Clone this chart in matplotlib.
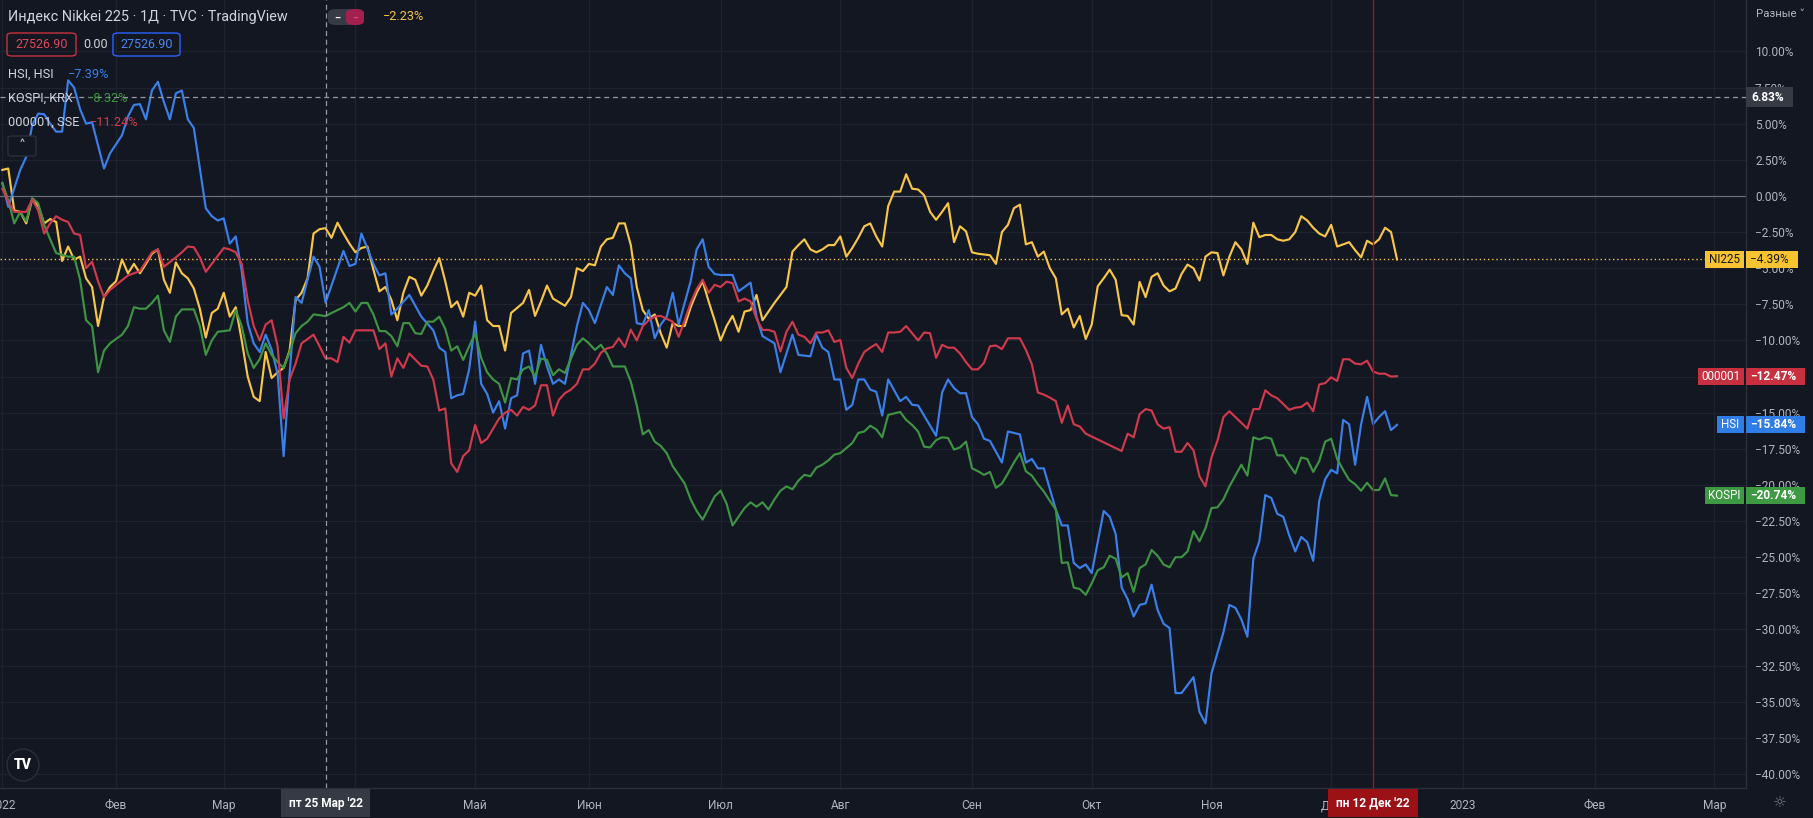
import matplotlib
matplotlib.use('Agg')
import matplotlib.pyplot as plt
import matplotlib.transforms as mtransforms
from matplotlib.patches import Rectangle, FancyBboxPatch, Ellipse

plt.rcParams['font.family'] = ['Roboto', 'DejaVu Sans']

# ---- data: (trading-day index from 4 Jan 2022, % change) ----
ni225 = [(0,1.8),(1,1.9),(2,-1.0),(3,-1.1),(4,-1.9),(5,-0.2),(6,-0.7),(7,-1.9),(8,-1.6),(9,-1.8),(10,-4.5),(11,-3.5),(12,-4.4),(13,-4.2),(14,-5.7),(15,-6.3),(16,-9.0),(17,-7.0),(18,-6.3),(19,-5.9),(20,-4.4),(21,-5.35),(22,-4.7),(23,-5.35),(24,-4.7),(25,-4.0),(26,-3.7),(27,-5.8),(28,-6.7),(29,-4.6),(30,-5.35),(31,-5.7),(32,-6.4),(33,-7.8),(34,-9.8),(35,-8.1),(36,-7.8),(37,-6.7),(38,-8.35),(39,-7.7),(40,-10.0),(41,-12.5),(42,-13.9),(43,-14.2),(44,-10.8),(45,-12.6),(46,-12.2),(47,-11.9),(48,-10.7),(49,-7.2),(50,-6.7),(51,-5.7),(52,-2.6),(53,-2.3),(54,-2.23),(55,-2.9),(56,-1.85),(57,-2.6),(58,-3.3),(59,-3.9),(60,-3.6),(61,-3.5),(62,-5.1),(63,-6.6),(64,-6.3),(65,-7.2),(66,-8.6),(67,-6.7),(68,-5.6),(69,-5.8),(70,-6.9),(71,-6.2),(72,-5.2),(73,-4.3),(74,-5.9),(75,-7.7),(76,-7.3),(77,-8.35),(78,-6.7),(79,-6.9),(80,-6.2),(81,-8.6),(82,-9.0),(83,-9.0),(84,-10.7),(85,-8.1),(87,-7.4),(88,-6.5),(89,-8.3),(90,-7.3),(91,-6.2),(92,-7.1),(94,-7.6),(95,-7.0),(96,-5.0),(97,-5.2),(98,-4.7),(99,-4.8),(100,-3.5),(101,-3.0),(102,-2.9),(103,-1.9),(104,-1.9),(105,-3.4),(106,-6.3),(107,-7.9),(108,-8.5),(109,-8.2),(110,-9.5),(111,-10.5),(112,-8.8),(113,-9.0),(114,-9.0),(115,-7.7),(116,-6.7),(117,-5.9),(118,-7.3),(119,-8.6),(120,-10.0),(121,-9.0),(122,-8.3),(123,-9.4),(124,-8.0),(125,-7.9),(126,-6.85),(127,-8.6),(128,-8.0),(129,-7.4),(130,-6.85),(131,-6.3),(132,-3.85),(133,-3.4),(134,-3.0),(135,-3.7),(136,-3.9),(137,-3.7),(138,-3.4),(139,-3.4),(140,-2.8),(141,-4.2),(142,-3.6),(143,-2.9),(144,-2.1),(145,-1.9),(146,-2.8),(147,-3.5),(148,-0.7),(149,0.3),(150,0.3),(151,1.5),(152,0.5),(153,0.45),(154,0.05),(155,-1.1),(156,-1.65),(157,-1.1),(158,-0.5),(159,-3.2),(160,-2.1),(161,-2.45),(162,-3.9),(163,-4.0),(164,-4.05),(165,-4.1),(166,-4.7),(167,-2.5),(168,-2.0),(169,-0.85),(170,-0.6),(171,-3.35),(172,-3.2),(173,-4.2),(174,-3.85),(175,-5.0),(176,-5.7),(177,-8.2),(178,-7.8),(179,-9.1),(180,-8.3),(181,-9.9),(182,-8.9),(183,-6.25),(184,-5.7),(185,-5.1),(186,-5.8),(187,-8.25),(188,-8.3),(189,-8.9),(190,-5.95),(191,-7.0),(192,-5.6),(193,-5.35),(194,-6.2),(195,-6.6),(196,-6.4),(197,-5.4),(198,-4.75),(199,-5.0),(200,-5.85),(201,-4.2),(202,-3.9),(203,-3.95),(204,-5.5),(205,-4.2),(206,-3.2),(207,-3.7),(208,-4.7),(209,-1.85),(210,-2.85),(211,-2.7),(212,-2.7),(213,-3.0),(214,-3.1),(215,-3.0),(216,-2.5),(217,-1.4),(218,-1.7),(219,-2.2),(220,-2.6),(221,-2.8),(222,-2.0),(223,-3.5),(224,-3.35),(225,-3.2),(226,-3.75),(227,-4.25),(228,-3.1),(229,-3.35),(230,-3.0),(231,-2.2),(232,-2.5),(233,-4.39)]

hsi = [(0,0.9),(1,-0.75),(3,1.8),(4,2.7),(5,4.9),(6,5.7),(7,5.65),(8,5.0),(9,4.45),(10,4.45),(11,8.0),(12,7.5),(13,6.0),(14,5.0),(15,5.1),(17,1.9),(18,2.95),(20,4.2),(21,5.5),(22,6.3),(23,6.35),(24,5.3),(25,7.3),(26,7.9),(27,6.5),(28,5.3),(29,7.1),(30,7.3),(31,5.3),(32,4.7),(34,-0.85),(35,-1.4),(36,-1.7),(37,-1.55),(38,-3.3),(39,-2.8),(40,-5.2),(41,-8.8),(42,-10.2),(43,-10.8),(44,-9.6),(45,-10.65),(46,-12.3),(47,-18.0),(48,-12.3),(49,-7.0),(50,-7.4),(52,-4.2),(53,-4.9),(54,-7.39),(57,-3.8),(58,-4.85),(59,-4.7),(60,-2.6),(62,-4.7),(63,-5.5),(64,-5.35),(65,-8.2),(66,-7.8),(68,-6.85),(70,-8.35),(72,-9.3),(73,-10.5),(74,-10.8),(75,-14.0),(76,-13.8),(77,-13.7),(78,-12.0),(79,-8.7),(80,-13.0),(81,-13.7),(82,-15.0),(83,-14.2),(84,-16.1),(85,-14.0),(86,-13.8),(87,-10.9),(88,-10.7),(89,-13.0),(90,-10.3),(91,-11.8),(92,-13.0),(93,-12.7),(94,-13.0),(96,-9.0),(97,-7.4),(98,-7.9),(99,-8.8),(101,-6.3),(102,-6.85),(103,-4.8),(104,-5.35),(105,-5.7),(106,-8.8),(107,-8.9),(108,-7.9),(109,-9.85),(110,-8.9),(111,-8.35),(112,-6.7),(113,-8.9),(115,-5.9),(116,-3.7),(117,-3.0),(118,-4.9),(119,-5.4),(120,-5.47),(122,-5.47),(123,-6.6),(125,-6.0),(126,-8.35),(127,-9.7),(129,-10.2),(130,-12.2),(132,-9.6),(133,-11.0),(135,-11.1),(136,-9.6),(137,-10.5),(138,-10.8),(139,-12.7),(140,-12.7),(141,-14.8),(142,-14.45),(143,-12.7),(144,-12.7),(145,-13.4),(146,-13.55),(147,-15.2),(148,-12.7),(150,-14.2),(151,-13.9),(152,-14.45),(153,-14.5),(154,-15.2),(156,-16.6),(157,-13.6),(158,-12.7),(159,-13.3),(160,-13.65),(161,-13.65),(162,-15.3),(163,-15.8),(164,-16.8),(165,-16.95),(167,-18.45),(168,-16.3),(170,-16.5),(171,-18.45),(172,-18.2),(173,-18.85),(174,-18.85),(176,-21.7),(177,-22.8),(178,-22.8),(179,-25.4),(180,-25.75),(181,-25.5),(182,-26.1),(184,-21.8),(185,-22.2),(186,-23.4),(187,-27.1),(188,-27.9),(189,-29.1),(190,-28.3),(191,-28.2),(192,-26.9),(193,-28.65),(194,-29.6),(195,-29.9),(196,-34.4),(197,-34.4),(199,-33.3),(200,-35.7),(201,-36.5),(202,-33.05),(204,-30.2),(205,-28.3),(206,-28.5),(207,-29.3),(208,-30.5),(209,-25.1),(210,-23.9),(211,-20.7),(212,-20.9),(213,-22.0),(214,-22.2),(215,-23.5),(216,-24.6),(217,-23.6),(218,-23.95),(219,-25.25),(220,-21.1),(221,-19.6),(222,-18.95),(223,-19.2),(224,-15.5),(225,-15.8),(226,-18.6),(227,-15.8),(228,-13.9),(229,-15.8),(230,-15.3),(231,-14.9),(232,-16.2),(233,-15.84)]

sse = [(0,0.5),(1,-0.4),(2,-1.1),(4,-1.1),(5,-0.25),(6,-1.0),(7,-2.6),(8,-1.9),(9,-1.4),(10,-1.65),(11,-1.8),(12,-2.6),(13,-2.7),(14,-5.0),(15,-4.55),(16,-5.9),(17,-7.0),(18,-6.5),(21,-5.5),(23,-5.2),(25,-3.9),(26,-3.7),(27,-4.9),(29,-4.25),(30,-3.9),(31,-3.5),(32,-3.55),(33,-4.25),(34,-5.25),(35,-4.7),(37,-3.6),(38,-3.7),(39,-3.9),(40,-4.7),(41,-7.2),(42,-9.0),(43,-10.0),(44,-8.9),(45,-8.6),(46,-10.4),(47,-15.4),(48,-12.7),(49,-11.6),(50,-10.2),(52,-9.6),(53,-10.4),(54,-11.24),(55,-11.24),(56,-11.5),(57,-9.75),(58,-10.15),(59,-9.3),(61,-9.3),(62,-9.3),(63,-10.6),(64,-10.2),(65,-12.5),(66,-11.24),(67,-11.9),(68,-10.9),(70,-11.75),(71,-11.8),(72,-12.7),(73,-14.85),(74,-14.7),(75,-18.5),(76,-19.1),(77,-18.0),(78,-17.6),(79,-15.85),(80,-17.1),(81,-16.8),(82,-16.1),(83,-15.4),(84,-15.0),(85,-14.8),(86,-15.2),(87,-14.6),(88,-14.8),(89,-14.5),(90,-13.1),(91,-13.1),(92,-15.2),(93,-14.1),(94,-13.65),(95,-13.4),(96,-13.0),(97,-12.0),(98,-12.0),(99,-11.6),(100,-10.85),(101,-10.55),(102,-10.45),(103,-9.85),(104,-10.45),(105,-9.25),(106,-10.0),(107,-9.0),(108,-8.6),(109,-8.35),(110,-8.3),(111,-8.5),(112,-8.7),(113,-9.75),(114,-8.6),(115,-7.4),(116,-6.45),(117,-5.8),(118,-6.7),(119,-6.15),(120,-6.3),(121,-5.93),(122,-6.04),(123,-7.3),(124,-7.1),(125,-7.3),(126,-8.5),(127,-9.27),(128,-9.27),(129,-9.4),(130,-10.77),(131,-9.4),(132,-8.7),(133,-9.6),(134,-9.75),(135,-10.2),(136,-9.45),(137,-9.45),(138,-9.3),(139,-10.1),(140,-9.97),(141,-11.9),(142,-12.6),(143,-11.6),(144,-10.8),(145,-10.5),(146,-10.25),(147,-10.8),(148,-9.45),(149,-9.45),(150,-9.4),(151,-9.0),(152,-9.5),(153,-10.0),(154,-9.45),(155,-9.5),(156,-11.2),(157,-10.3),(158,-10.5),(159,-10.5),(160,-10.9),(161,-11.5),(162,-12.0),(163,-12.0),(164,-11.55),(165,-10.4),(166,-10.35),(167,-10.6),(168,-9.85),(170,-9.85),(171,-10.65),(172,-11.65),(173,-13.6),(174,-13.75),(175,-13.95),(176,-14.2),(177,-15.7),(178,-14.5),(179,-15.8),(180,-15.95),(181,-16.45),(183,-16.85),(185,-17.25),(187,-17.65),(188,-16.45),(189,-16.7),(190,-15.1),(191,-14.75),(192,-14.85),(193,-15.8),(194,-16.1),(195,-16.0),(196,-17.7),(197,-17.7),(198,-17.1),(199,-17.6),(200,-19.4),(201,-20.1),(202,-18.1),(203,-16.95),(204,-15.3),(205,-14.9),(206,-15.3),(207,-15.7),(208,-16.1),(209,-14.75),(210,-14.75),(211,-13.45),(212,-13.8),(213,-14.0),(214,-14.4),(215,-14.8),(216,-14.65),(217,-14.6),(218,-14.3),(219,-14.9),(220,-13.05),(221,-12.95),(222,-12.55),(223,-12.8),(224,-11.3),(225,-11.3),(226,-11.6),(227,-11.65),(228,-11.4),(229,-12.15),(230,-12.3),(231,-12.3),(232,-12.5),(233,-12.47)]

kospi = [(0,0.9),(1,-0.3),(2,-1.9),(3,-1.1),(4,-1.75),(5,-0.15),(6,-0.5),(7,-2.0),(8,-3.0),(9,-3.95),(11,-4.2),(12,-4.2),(13,-5.8),(14,-8.6),(15,-9.0),(16,-12.2),(17,-10.7),(18,-10.2),(20,-9.6),(21,-9.0),(22,-7.7),(23,-7.8),(24,-7.8),(25,-7.4),(26,-6.9),(27,-9.3),(28,-10.1),(29,-8.35),(30,-7.85),(32,-7.85),(33,-9.0),(34,-11.0),(35,-10.0),(36,-9.4),(38,-9.3),(39,-7.9),(40,-9.0),(41,-10.9),(42,-11.9),(43,-11.3),(44,-10.2),(45,-11.0),(46,-11.5),(47,-11.9),(48,-10.8),(49,-9.5),(50,-9.0),(51,-8.7),(52,-8.2),(53,-8.25),(54,-8.32),(55,-8.1),(56,-7.9),(57,-7.7),(58,-7.4),(59,-8.0),(60,-7.4),(61,-7.4),(62,-8.2),(63,-9.35),(64,-9.35),(65,-9.7),(66,-10.4),(67,-8.8),(68,-8.8),(69,-9.5),(70,-9.55),(71,-8.7),(72,-8.7),(73,-8.35),(74,-9.2),(75,-10.7),(76,-10.4),(77,-11.35),(78,-10.4),(79,-9.5),(80,-11.2),(81,-12.2),(82,-12.7),(83,-13.0),(84,-14.3),(85,-12.6),(86,-12.7),(87,-12.0),(88,-11.8),(89,-12.5),(90,-11.25),(91,-11.35),(92,-12.4),(93,-12.0),(94,-12.25),(95,-11.25),(96,-10.3),(97,-9.85),(98,-10.2),(99,-10.65),(100,-10.3),(101,-10.9),(102,-11.8),(104,-11.8),(105,-12.85),(106,-14.5),(107,-16.5),(108,-16.2),(109,-17.0),(110,-17.3),(111,-17.8),(112,-18.7),(113,-19.3),(114,-19.9),(115,-21.0),(116,-21.8),(117,-22.4),(118,-21.6),(119,-20.8),(120,-20.4),(121,-21.3),(122,-22.8),(123,-22.2),(124,-21.6),(125,-21.2),(126,-21.5),(127,-21.2),(128,-21.7),(129,-21.0),(130,-20.4),(131,-20.1),(132,-20.3),(133,-19.7),(134,-19.3),(135,-19.4),(136,-18.8),(137,-18.6),(138,-18.3),(139,-17.9),(140,-17.8),(141,-17.45),(142,-17.1),(143,-16.4),(144,-16.3),(145,-15.9),(146,-16.15),(147,-16.7),(148,-15.15),(149,-15.05),(150,-14.95),(151,-15.5),(152,-15.85),(153,-16.3),(154,-17.35),(155,-17.4),(156,-16.9),(157,-16.7),(158,-16.75),(159,-17.55),(160,-17.4),(161,-17.0),(162,-18.85),(163,-19.05),(164,-19.3),(165,-19.1),(166,-20.2),(167,-19.9),(168,-19.2),(169,-18.45),(170,-17.8),(171,-19.05),(172,-19.35),(173,-19.95),(174,-20.45),(175,-21.1),(176,-21.7),(177,-25.4),(178,-25.35),(179,-27.1),(180,-27.2),(181,-27.6),(182,-26.8),(183,-25.9),(184,-25.7),(185,-24.9),(186,-25.1),(187,-26.4),(188,-26.1),(189,-27.4),(190,-25.75),(191,-25.5),(192,-24.5),(193,-24.9),(194,-25.5),(195,-25.7),(196,-25.0),(197,-25.0),(198,-24.6),(199,-23.2),(200,-23.9),(201,-23.0),(202,-21.6),(203,-21.55),(204,-21.0),(205,-20.1),(206,-19.35),(207,-18.6),(208,-19.35),(209,-16.7),(210,-16.85),(211,-16.7),(212,-16.8),(213,-17.95),(214,-17.95),(215,-18.6),(216,-19.2),(217,-18.1),(218,-18.2),(219,-19.1),(220,-18.35),(221,-17.0),(222,-16.8),(223,-18.2),(224,-18.95),(225,-19.65),(226,-19.95),(227,-20.4),(228,-19.85),(229,-20.35),(230,-20.35),(231,-19.55),(232,-20.7),(233,-20.74)]

# month ticks (trading-day index) and their labels; April sits under the crosshair tag
month_idx = [0, 19, 37, 59, 79, 98, 120, 140, 162, 182, 202, 222, 244, 266, 286]
month_lbl = ["2022", "Фев", "Мар", "", "Май", "Июн", "Июл", "Авг", "Сен", "Окт", "Ноя", "Дек", "2023", "Фев", "Мар"]
pct_ticks = [10 - 2.5 * k for k in range(21)]

# last values shown in the price-scale labels
last_lbl = [("NI225", -4.39, '#f7c331', '#131722'),
            ("000001", -12.47, '#c8303f', 'white'),
            ("HSI", -15.84, '#2f7de6', 'white'),
            ("KOSPI", -20.74, '#3d9a42', 'white')]

cross_idx, cross_pct = 54, 6.83     # crosshair position (пт 25 Мар '22)
mark_idx = 229                      # red marker (пн 12 Дек '22)

# ---- colours ----
BG = '#131722'
GRID = '#1f2330'
SEP = '#2a2e39'
TXT = '#b2b5be'
C_NI, C_HSI, C_SSE, C_KOS = '#f7c548', '#3b80ea', '#d03a4c', '#3f9444'

W, H = 1813, 818
fig = plt.figure(figsize=(W / 100, H / 100), dpi=100, facecolor=BG)
ax = fig.add_axes([0, 30 / H, 1746 / W, 788 / H])
ax.set_facecolor(BG)


def fx(px):
    return px / W


def fy(py):
    return 1 - py / H


# lines
for ser, col in [(ni225, C_NI), (hsi, C_HSI), (kospi, C_KOS), (sse, C_SSE)]:
    xs = [p[0] for p in ser]
    ys = [p[1] for p in ser]
    ax.plot(xs, ys, color=col, lw=1.55, solid_joinstyle='round', zorder=4)

ax.set_xlim(-0.38, 291.3)
ax.set_ylim(-40.97, 13.56)

ax.set_xticks(month_idx)
ax.set_xticklabels(month_lbl)
ax.set_yticks(pct_ticks)
ax.set_yticklabels([f"{v:.2f}%".replace('-', '\u2212') for v in pct_ticks])
ax.yaxis.set_ticks_position('right')
ax.tick_params(axis='y', length=0, pad=6.5, labelsize=8.6, labelcolor=TXT)
ax.tick_params(axis='x', length=0, pad=8, labelsize=8.6, labelcolor=TXT)
ax.grid(True, color=GRID, lw=0.9, zorder=0)
for s in ['top', 'left']:
    ax.spines[s].set_visible(False)
for s in ['right', 'bottom']:
    ax.spines[s].set_color(SEP)
    ax.spines[s].set_linewidth(1)

# reference lines
ax.axhline(0, color='#6a6d78', lw=0.9, zorder=2)
ax.axhline(last_lbl[0][1], color=C_NI, lw=1, ls=(0, (1, 2)), zorder=3)
ax.axhline(cross_pct, color='#9598a1', lw=0.9, ls=(0, (4, 3)), zorder=5)
ax.axvline(cross_idx, color='#9598a1', lw=0.9, ls=(0, (4, 3)), zorder=5)
ax.axvline(mark_idx, color='#8e1b1f', lw=1, zorder=5)

# price-scale labels
tr = mtransforms.blended_transform_factory(fig.transFigure, ax.transData)
bh = 17 / 14.45   # box height in data units
for name, val, fc, tc in last_lbl:
    wname = 8 + 6.3 * len(name)
    ax.add_artist(Rectangle((fx(1744 - wname), val - bh / 2), fx(wname), bh,
                            transform=tr, facecolor=fc, edgecolor='none',
                            clip_on=False, zorder=10))
    ax.add_artist(Rectangle((fx(1746), val - bh / 2), fx(59 if tc == 'white' else 52), bh,
                            transform=tr, facecolor=fc, edgecolor='none',
                            clip_on=False, zorder=10))
    ax.text(fx(1744 - wname / 2), val, name, transform=tr, ha='center', va='center',
            fontsize=8.4, color=tc, zorder=11, clip_on=False)
    ax.text(fx(1750), val, f"{val:.2f}%".replace('-', '\u2212'), transform=tr,
            ha='left', va='center', fontsize=8.6, color=tc, zorder=11, clip_on=False,
            fontweight='bold' if tc == 'white' else 'normal')

ax.add_artist(Rectangle((fx(1746), cross_pct - 10 / 14.45), fx(47), 20 / 14.45,
                        transform=tr, facecolor='#363a45', edgecolor='none',
                        clip_on=False, zorder=10))
ax.text(fx(1751), cross_pct, f"{cross_pct:.2f}%", transform=tr, ha='left', va='center',
        fontsize=8.6, color='white', fontweight='bold', zorder=11, clip_on=False)

# time-scale crosshair labels
trx = mtransforms.blended_transform_factory(ax.transData, fig.transFigure)
for idx, txt, fc in [(cross_idx, "пт 25 Мар '22", '#363a45'), (mark_idx, "пн 12 Дек '22", '#9c1116')]:
    ax.add_artist(Rectangle((idx - 7.5, fy(817)), 15.0, 28 / H, transform=trx,
                            facecolor=fc, edgecolor='none', clip_on=False, zorder=10))
    ax.text(idx, fy(803), txt, transform=trx, ha='center', va='center', fontsize=8.6,
            color='white', fontweight='bold', zorder=11, clip_on=False)

# top-right mode label and bottom-right settings glyph
fig.text(fx(1756), fy(14), "Разные \u02c5", fontsize=8.2, color=TXT, va='center', ha='left')
fig.text(fx(1780), fy(803), "\u263c", fontsize=11, color='#787b86', va='center', ha='center',
         family='DejaVu Sans')

# legend (top-left)
WHITE = '#d1d4dc'
fig.text(fx(8), fy(17), "Индекс Nikkei 225 · 1Д · TVC · TradingView", fontsize=10.4,
         color=WHITE, va='center', ha='left')
fig.add_artist(FancyBboxPatch((fx(328), fy(25)), fx(36), 16 / H,
                              boxstyle='round,pad=0,rounding_size=0.005',
                              transform=fig.transFigure, facecolor='#363a45', edgecolor='none'))
fig.add_artist(FancyBboxPatch((fx(346), fy(25)), fx(18), 16 / H,
                              boxstyle='round,pad=0,rounding_size=0.005',
                              transform=fig.transFigure, facecolor='#a2204e', edgecolor='none'))
fig.text(fx(337), fy(17.5), "\u2012", fontsize=8, color='white', va='center', ha='center',
         fontweight='bold')
fig.text(fx(355), fy(17.5), "\u2012", fontsize=8, color='#d04c78', va='center', ha='center',
         fontweight='bold')
fig.text(fx(383), fy(17), "\u22122.23%", fontsize=9.2, color=C_NI, va='center', ha='left')

for x0, w, ec, tc, txt in [(7, 69, '#c8303f', '#e04757', "27526.90"),
                           (113, 67, '#2962ff', '#4a88f2', "27526.90")]:
    fig.add_artist(FancyBboxPatch((fx(x0), fy(56)), fx(w), 23 / H,
                                  boxstyle='round,pad=0,rounding_size=0.003',
                                  transform=fig.transFigure, facecolor='none',
                                  edgecolor=ec, lw=1))
    fig.text(fx(x0 + w / 2), fy(44.5), txt, fontsize=9, color=tc, va='center', ha='center')
fig.text(fx(83), fy(44.5), "0.00", fontsize=9, color=WHITE, va='center', ha='left')

for yy, nm, val, col, xv in [(74, "HSI, HSI", "\u22127.39%", C_HSI, 68),
                             (98, "KOSPI, KRX", "\u22128.32%", C_KOS, 87),
                             (122, "000001, SSE", "\u221211.24%", C_SSE, 90)]:
    fig.text(fx(8), fy(yy), nm, fontsize=9.2, color=WHITE, va='center', ha='left')
    fig.text(fx(xv), fy(yy), val, fontsize=9.2, color=col, va='center', ha='left')

fig.add_artist(FancyBboxPatch((fx(8), fy(156)), fx(28), 20 / H,
                              boxstyle='round,pad=0,rounding_size=0.002',
                              transform=fig.transFigure, facecolor=BG, edgecolor=SEP, lw=1))
fig.text(fx(22), fy(146), "\u02c4", fontsize=10, color=WHITE, va='center', ha='center',
         family='DejaVu Sans')

# TradingView logo (bottom-left)
fig.add_artist(Ellipse((fx(23), fy(765)), 32 / W, 32 / H, transform=fig.transFigure,
                       facecolor=BG, edgecolor=SEP, lw=1))
fig.text(fx(23), fy(765), "TV", fontsize=10, color='white', fontweight='heavy',
         va='center', ha='center')

fig.savefig('out.png', dpi=100, facecolor=BG)
